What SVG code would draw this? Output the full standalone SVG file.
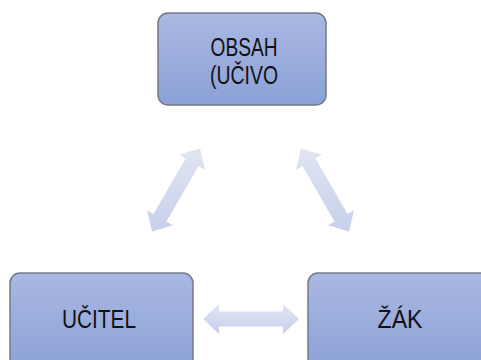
<svg xmlns="http://www.w3.org/2000/svg" width="481" height="360" viewBox="0 0 481 360">
  <defs>
    <linearGradient id="boxGrad" x1="0" y1="0" x2="0" y2="1">
      <stop offset="0" stop-color="#aab8e1"/>
      <stop offset="1" stop-color="#8ba1d8"/>
    </linearGradient>
    <linearGradient id="arrowGrad" x1="0" y1="0" x2="0" y2="1">
      <stop offset="0" stop-color="#e0e4f2"/>
      <stop offset="1" stop-color="#c8d0eb"/>
    </linearGradient>
    <style>
      .box { fill: url(#boxGrad); stroke: #737987; stroke-width: 1.5; }
      .lbl { font-family: "Liberation Sans", Arial, sans-serif; font-size: 25px; fill: #111111; text-anchor: middle; }
      .arrow { fill: url(#arrowGrad); stroke: none; }
    </style>
  </defs>
  <rect width="481" height="360" fill="#ffffff"/>
  <g id="connectors">
    <path class="arrow" d="M152,231.6 L147,210.2 L153.5,214 L185.5,158.5 L179,154.8 L200,148.4 L205,169.8 L198.5,166 L166.5,221.5 L173,225.2 Z"/>
    <path class="arrow" d="M301,148.4 L322,154.8 L315.5,158.5 L347.5,214 L354,210.2 L349,231.6 L328,225.2 L334.5,221.5 L302.5,166 L296,169.8 Z"/>
    <path class="arrow" d="M203,319 L219,304 L219,311.5 L283,311.5 L283,304 L299,319 L283,334 L283,326.5 L219,326.5 L219,334 Z"/>
  </g>
  <g id="node-obsah">
    <rect class="box" x="158" y="13" width="168" height="92" rx="10"/>
    <text class="lbl" x="244" y="56" textLength="67" lengthAdjust="spacingAndGlyphs">OBSAH</text>
    <text class="lbl" x="244" y="84" textLength="68" lengthAdjust="spacingAndGlyphs">(UČIVO</text>
  </g>
  <g id="node-ucitel">
    <rect class="box" x="10" y="273" width="183" height="100" rx="10"/>
    <text class="lbl" x="99" y="328" textLength="74" lengthAdjust="spacingAndGlyphs">UČITEL</text>
  </g>
  <g id="node-zak">
    <rect class="box" x="308" y="273" width="183" height="100" rx="10"/>
    <text class="lbl" x="400" y="328" textLength="45" lengthAdjust="spacingAndGlyphs">ŽÁK</text>
  </g>
</svg>
